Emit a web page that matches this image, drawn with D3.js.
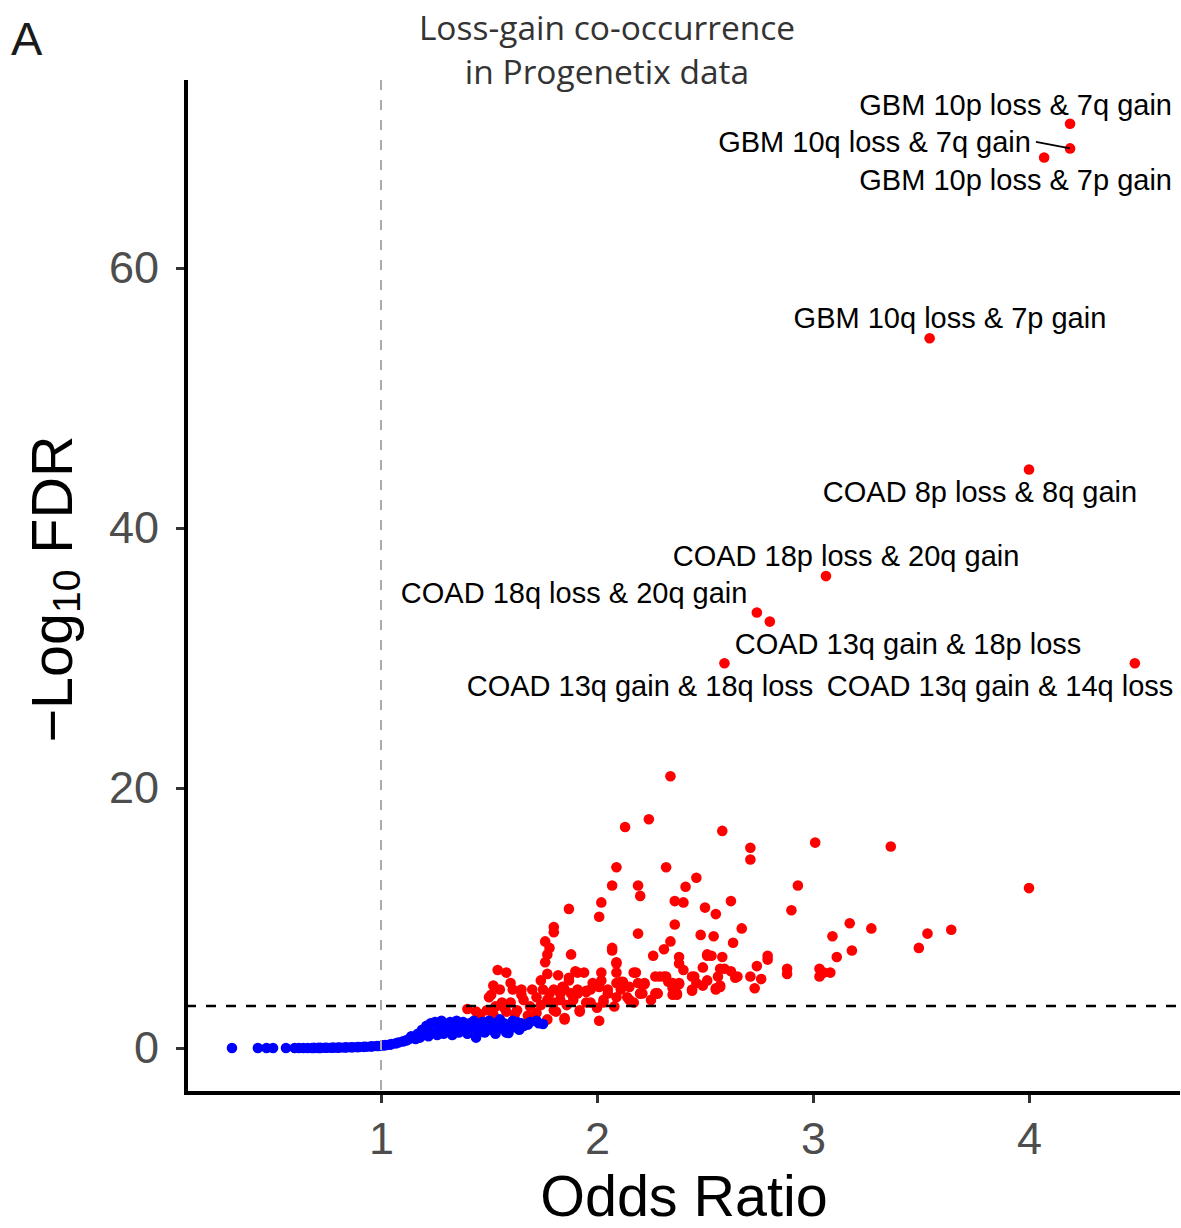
<!DOCTYPE html>
<html>
<head>
<meta charset="utf-8">
<script src="https://cdn.jsdelivr.net/npm/d3@7"></script>
<style>
  body { margin: 0; background: #fff; }
  svg { display: block; }
</style>
</head>
<body>
<div id="chart"></div>
<script>
// chart values
let xTicks = [1, 2, 3, 4]
let yTicks = [0, 20, 40, 60]
let fdrCut = 3.23

// non significant pairs (odds ratio, -log10 FDR)
let bluePoints = [
  [0.31,0.0],[0.43,0.0],[0.47,0.0],[0.50,0.0],[0.56,0.0],[0.60,0.0],[0.62,0.0],[0.64,0.0],
  [0.66,0.0],[0.68,0.0],[0.69,0.01],[0.71,0.01],[0.72,0.01],[0.74,0.02],[0.75,0.02],[0.77,0.02],
  [0.78,0.03],[0.80,0.03],[0.81,0.04],[0.83,0.04],[0.84,0.05],[0.86,0.06],[0.87,0.06],[0.89,0.07],
  [0.90,0.08],[0.92,0.09],[0.93,0.1],[0.95,0.12],[0.96,0.13],[0.98,0.15],[0.99,0.16],[1.01,0.2],
  [1.02,0.22],[1.04,0.26],[1.05,0.3],[1.07,0.36],[1.08,0.42],[1.10,0.5],[1.11,0.55],[1.12,0.6],
  [1.13,0.7],[1.14,0.9],[1.16,0.7],[1.17,1.1],[1.18,0.8],[1.19,1.4],[1.20,1.0],[1.21,1.7],
  [1.22,0.9],[1.23,1.9],[1.24,1.2],[1.25,2.0],[1.26,1.0],[1.27,1.5],[1.28,2.1],[1.29,1.1],
  [1.30,1.8],[1.31,1.3],[1.32,2.0],[1.33,1.0],[1.34,1.6],[1.35,2.1],[1.36,1.2],[1.37,1.8],
  [1.38,2.0],[1.39,1.4],[1.40,1.1],[1.41,1.9],[1.42,1.5],[1.43,2.1],[1.44,0.8],[1.45,1.3],
  [1.46,1.8],[1.47,2.0],[1.48,1.2],[1.49,1.6],[1.50,2.1],[1.51,1.4],[1.52,1.9],[1.53,1.1],
  [1.54,1.7],[1.55,2.2],[1.56,1.5],[1.57,1.9],[1.58,1.2],[1.59,1.15],[1.60,1.8],[1.61,2.1],
  [1.62,1.6],[1.63,2.0],[1.64,1.4],[1.65,1.9],[1.66,1.7],[1.68,1.8],[1.69,2.0],[1.72,2.1],
  [1.73,1.9],[1.75,1.85]
]

// significant pairs (odds ratio, -log10 FDR)
let redPoints = [
  [2.34,20.9],[2.13,17.0],[2.24,17.6],[2.58,16.7],[2.71,15.4],[2.71,14.5],[3.01,15.8],[3.36,15.5],
  [4.00,12.3],[2.09,13.9],[2.32,13.9],[2.07,12.5],[2.19,12.5],[2.20,11.7],[2.41,12.4],[2.46,13.1],
  [2.93,12.5],[1.87,10.7],[2.02,11.2],[2.01,10.1],[2.36,11.3],[2.40,11.2],[2.50,10.8],[2.55,10.3],
  [2.62,11.3],[2.90,10.6],[1.80,9.3],[1.80,8.9],[2.36,9.5],[2.67,9.2],[2.19,8.8],[2.48,8.7],
  [2.54,8.6],[3.09,8.6],[3.17,9.6],[3.27,9.2],[3.53,8.8],[3.64,9.1],[3.49,7.7],[3.18,7.5],
  [3.11,7.0],[3.08,5.8],[1.76,8.2],[1.78,7.7],[1.77,7.2],[1.76,6.6],[2.07,7.7],[2.34,8.2],
  [2.31,7.6],[2.63,8.1],[1.88,7.2],[2.26,7.1],[2.09,6.6],[2.38,7.0],[2.38,6.5],[2.40,6.0],
  [2.51,7.1],[2.53,7.1],[2.58,7.0],[2.49,6.2],[2.79,7.1],[2.79,6.8],[2.74,6.3],[2.88,6.1],
  [2.88,5.7],[3.03,6.1],[3.05,5.8],[3.03,5.5],[2.71,5.5],[2.76,5.3],[2.73,4.6],[2.44,5.5],
  [2.44,4.5],[2.51,5.2],[2.57,6.1],[2.56,5.5],[2.57,4.7],[2.55,4.5],[2.64,5.4],[1.54,6.0],
  [1.58,5.8],[1.52,4.8],[1.51,4.1],[1.60,5.0],[1.61,4.5],[1.65,4.1],[1.74,5.2],[1.77,5.7],
  [1.82,5.6],[1.87,5.4],[1.90,5.9],[1.94,5.8],[1.98,5.0],[2.02,5.8],[2.09,5.8],[2.17,5.8],
  [2.27,5.5],[2.32,5.5],[2.35,4.6],[2.38,4.9],[2.28,4.2],[2.21,4.9],[2.20,4.2],[2.11,5.1],
  [1.95,4.4],[2.01,2.1],[1.85,2.2],[2.29,5.5],[2.33,5.1],[2.38,5.0],[2.45,5.5],[2.46,5.0],
  [2.44,4.4],[2.49,4.8],[2.59,6.1],[2.62,5.9],[2.65,5.5],[2.55,4.6],[2.57,4.8],[2.22,4.9],
  [2.27,4.2],[2.25,3.7],[2.35,4.1],[2.37,4.1],[2.07,7.5],[2.09,6.5],[2.51,7.2],[1.87,5.2],
  [1.91,5.8],[2.02,5.2],[2.18,5.8],[1.84,4.7],[1.83,4.2],[1.88,4.2],[1.91,4.5],[1.95,4.3],
  [2.01,4.7],[2.05,4.5],[2.09,5.0],[2.12,5.1],[2.15,4.7],[2.19,5.0],[2.22,5.0],[2.21,4.2],
  [2.28,4.2],[2.31,5.5],[2.35,5.0],[2.37,4.2],[1.80,3.5],[1.81,2.8],[1.85,2.3],[1.92,2.8],
  [1.97,3.5],[2.03,3.7],[2.09,3.9],[2.15,3.7],[1.78,4.2],[1.40,3.0],[1.44,2.8],[1.49,2.9],
  [1.53,3.2],[1.56,3.5],[1.58,2.8],[1.60,3.5],[1.63,2.9],[1.66,3.7],[1.65,4.5],[1.69,3.2],
  [1.70,4.5],[1.72,3.9],[1.74,3.3],[1.75,4.5],[1.77,3.7],[1.80,2.9],[1.80,4.5],[1.83,3.7],
  [1.85,4.5],[1.86,3.3],[1.89,3.7],[1.91,4.2],[1.92,2.9],[1.95,3.5],[1.97,4.5],[2.00,3.1],
  [2.03,3.5],[2.05,4.2],[2.08,3.2],[2.11,4.5],[2.14,3.9],[2.17,3.5],[2.20,4.2],[1.77,2.2],
  [1.50,3.9],[1.55,4.5],[1.57,3.1],[1.68,2.5],[1.72,2.7],[1.46,2.6],[1.52,2.6],[1.62,2.6]
]

// labelled pairs
let labelNames = [
  "GBM 10p loss & 7q gain", "GBM 10q loss & 7q gain", "GBM 10p loss & 7p gain",
  "GBM 10q loss & 7p gain", "COAD 8p loss & 8q gain", "COAD 18p loss & 20q gain",
  "COAD 18q loss & 20q gain", "COAD 13q gain & 18p loss", "COAD 13q gain & 18q loss",
  "COAD 13q gain & 14q loss"
]
let labelOR  = [4.19, 4.19, 4.07, 3.54, 4.00, 3.06, 2.74, 2.80, 2.59, 4.49]
let labelFDR = [71.1, 69.2, 68.5, 54.6, 44.5, 36.3, 33.5, 32.8, 29.6, 29.6]
// where the repelled text sits (data units) and its anchor
let labelTextOR  = [4.662, 4.009, 4.662, 3.634, 3.773, 3.153, 1.894, 3.440, 2.199, 3.866]
let labelTextFDR = [72.6, 69.7, 66.8, 56.2, 42.8, 37.9, 35.0, 31.1, 27.9, 27.9]
let labelAnchor  = ["end", "end", "end", "middle", "middle", "middle", "middle", "middle", "middle", "middle"]
let labelSegment = [false, true, false, false, false, false, false, false, false, false]

let W = 1181, H = 1228
let plot = {left: 186, right: 1180, top: 80, bottom: 1093}

let svg = d3.select("#chart")
  .append("svg")
    .attr("width", W)
    .attr("height", H)
    .style("font-family", "'Liberation Sans', Arial, Helvetica, sans-serif")

let x = d3.scaleLinear()
  .domain([0.0972, 4.699])
  .range([plot.left, plot.right])
let y = d3.scaleLinear()
  .domain([-3.46, 74.46])
  .range([plot.bottom, plot.top])

// points: red first, blue on top
svg.append("g").selectAll("circle")
  .data(redPoints.concat(labelOR.map((d, i) => [d, labelFDR[i]])))
  .enter().append("circle")
    .attr("cx", d => x(d[0]))
    .attr("cy", d => y(d[1]))
    .attr("r", 5.3)
    .attr("fill", "#FF0000")

svg.append("g").selectAll("circle")
  .data(bluePoints)
  .enter().append("circle")
    .attr("cx", d => x(d[0]))
    .attr("cy", d => y(d[1]))
    .attr("r", 5.3)
    .attr("fill", "#0000FF")

// reference lines
svg.append("line")
  .attr("x1", x(1)).attr("x2", x(1))
  .attr("y1", plot.top).attr("y2", plot.bottom)
  .attr("stroke", "#ababab")
  .attr("stroke-width", 2)
  .attr("stroke-dasharray", "10,10")

svg.append("line")
  .attr("x1", plot.left).attr("x2", plot.right)
  .attr("y1", y(fdrCut)).attr("y2", y(fdrCut))
  .attr("stroke", "#000")
  .attr("stroke-width", 2.5)
  .attr("stroke-dasharray", "10,10")

// labels
let lab = svg.append("g")
  .style("font-size", "29px")
  .attr("fill", "#000")

labelNames.forEach((name, i) => {
  lab.append("text")
    .attr("x", x(labelTextOR[i]))
    .attr("y", y(labelTextFDR[i]))
    .attr("dy", "0.36em")
    .attr("text-anchor", labelAnchor[i])
    .text(name)
  if (labelSegment[i]) {
    lab.append("line")
      .attr("x1", x(labelTextOR[i]) + 5)
      .attr("y1", y(labelTextFDR[i]))
      .attr("x2", x(labelOR[i]))
      .attr("y2", y(labelFDR[i]))
      .attr("stroke", "#000")
      .attr("stroke-width", 2)
  }
})

// axes
let xAxis = svg.append("g")
  .attr("transform", "translate(0," + plot.bottom + ")")
  .call(d3.axisBottom(x).tickValues(xTicks).tickSize(10).tickPadding(19).tickFormat(d3.format("d")))
let yAxis = svg.append("g")
  .attr("transform", "translate(" + plot.left + ",0)")
  .call(d3.axisLeft(y).tickValues(yTicks).tickSize(10).tickPadding(17).tickFormat(d3.format("d")))

;[xAxis, yAxis].forEach(g => {
  g.select(".domain").remove()
  g.selectAll(".tick line").attr("stroke", "#333").attr("stroke-width", 3)
  g.selectAll(".tick text")
    .attr("fill", "#4D4D4D")
    .style("font-size", "45px")
    .style("font-family", "'Liberation Sans', Arial, sans-serif")
})

svg.append("path")
  .attr("d", "M" + plot.left + "," + plot.top + "V" + plot.bottom + "H" + plot.right)
  .attr("fill", "none")
  .attr("stroke", "#000")
  .attr("stroke-width", 4)

// axis titles
svg.append("text")
  .attr("x", 684)
  .attr("y", 1216)
  .attr("text-anchor", "middle")
  .style("font-size", "57.5px")
  .text("Odds Ratio")

let yt = svg.append("text")
  .attr("transform", "translate(72,589) rotate(-90)")
  .attr("text-anchor", "middle")
  .style("font-size", "57.5px")
yt.append("tspan").text("\u2212Log")
yt.append("tspan").attr("dy", 8).style("font-size", "39px").text("10")
yt.append("tspan").attr("dy", -8).text(" FDR")

// title and panel letter
let title = svg.append("text")
  .attr("text-anchor", "middle")
  .attr("fill", "#333")
  .style("font-family", "'Open Sans', sans-serif")
  .style("font-size", "33.5px")
title.append("tspan").attr("x", 607).attr("y", 40).text("Loss-gain co-occurrence")
title.append("tspan").attr("x", 607).attr("y", 84).text("in Progenetix data")

svg.append("text")
  .attr("x", 11)
  .attr("y", 55)
  .attr("fill", "#1a1a1a")
  .style("font-family", "'Liberation Sans', Arial, sans-serif")
  .style("font-size", "47px")
  .text("A")
</script>
</body>
</html>
